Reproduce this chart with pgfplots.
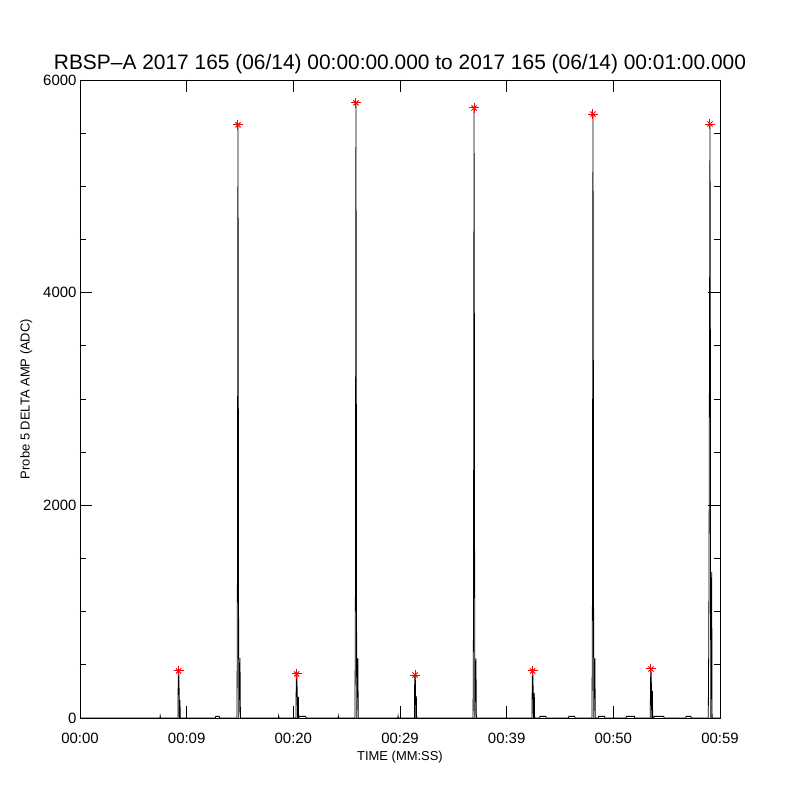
\documentclass[border=0pt]{standalone}
\usepackage{pgfplots}
\pgfplotsset{compat=1.18}
\usepackage{fontspec}
\setmainfont{Liberation Sans}
\begin{document}
\begin{tikzpicture}
\pgfplotstableread{
t v
9.25 442
14.81 5578
20.31 414
25.87 5785
31.41 404
36.94 5737
42.44 442
48.09 5680
53.53 461
59.06 5586
}\peaks
\begin{axis}[
  scale only axis,
  width=640bp, height=638bp,
  xmin=0, xmax=60, ymin=0, ymax=6000,
  axis line style={line width=0.8bp},
  xtick={0,10,20,30,40,50,60},
  xticklabels={00:00,00:09,00:20,00:29,00:39,00:50,00:59},
  ytick={0,2000,4000,6000},
  minor y tick num=3,
  tick align=inside,
  major tick length=12bp,
  minor tick length=6bp,
  tick style={black, line width=0.8bp},
  /pgf/number format/assume math mode=true,
  yticklabel style={/pgf/number format/1000 sep={}, font=\fontsize{15}{15}\selectfont},
  xticklabel style={font=\fontsize{15}{15}\selectfont, yshift=-12bp},
  title={RBSP\textendash A 2017 165 (06/14) 00:00:00.000 to 2017 165 (06/14) 00:01:00.000},
  title style={font=\fontsize{21}{21}\selectfont, yshift=-3bp},
  xlabel={TIME (MM:SS)},
  xlabel style={font=\fontsize{13}{13}\selectfont, yshift=0bp},
  ylabel={Probe 5 DELTA AMP (ADC)},
  ylabel style={font=\fontsize{13}{13}\selectfont, yshift=4bp},
]
\addplot[black, line width=0.8bp] coordinates {
(0,0) (7.5,0) (7.52,20) (7.56,0)
(9.18,0) (9.21,385) (9.25,442) (9.28,385) (9.32,0) (9.375,170) (9.40,0)
(12.7,0) (12.72,15) (13.05,15) (13.08,0)
(14.72,0) (14.76,1380) (14.81,5578) (14.84,3350) (14.88,0) (15.0,564) (15.04,0)
(18.6,0) (18.62,20) (18.66,0)
(20.24,0) (20.28,414) (20.31,414) (20.34,380) (20.40,0) (20.47,198) (20.50,0)
(20.55,15) (21.15,15) (21.2,0)
(24.2,0) (24.22,20) (24.26,0)
(25.78,0) (25.82,1185) (25.87,5785) (25.90,3649) (25.94,0) (26.05,560) (26.09,0)
(29.8,0) (29.82,20) (29.86,0)
(31.35,0) (31.38,404) (31.41,404) (31.44,380) (31.48,0) (31.53,207) (31.56,0)
(36.85,0) (36.89,950) (36.94,5737) (36.97,3809) (37.01,0) (37.12,560) (37.16,0)
(42.37,0) (42.40,376) (42.44,442) (42.47,376) (42.51,0) (42.59,235) (42.62,0)
(43.1,0) (43.12,15) (43.68,15) (43.7,0)
(45.8,0) (45.82,15) (46.38,15) (46.4,0)
(48.0,0) (48.04,1129) (48.09,5680) (48.12,3978) (48.16,0) (48.27,560) (48.31,0)
(48.6,0) (48.62,15) (49.18,15) (49.2,0)
(51.2,0) (51.22,15) (51.98,15) (52.0,0)
(53.46,0) (53.49,367) (53.53,461) (53.56,367) (53.60,0) (53.66,254) (53.69,0)
(53.8,0) (53.82,15) (54.73,15) (54.75,0)
(56.8,0) (56.82,15) (57.28,15) (57.3,0)
(58.90,0) (58.94,630) (58.97,1373) (59.06,5586) (59.09,4157) (59.13,0) (59.22,1373) (59.26,0) (60,0)
};
\addplot[only marks, red, mark=+, mark size=5bp, mark options={line width=1bp}] table[x=t,y=v] {\peaks};
\addplot[only marks, red, mark=x, mark size=3.6bp, mark options={line width=1bp}] table[x=t,y=v] {\peaks};
\end{axis}
\path (current axis.south west) ++(-80bp,-82bp) rectangle ([xshift=80bp,yshift=80bp]current axis.north east);
\end{tikzpicture}
\end{document}
